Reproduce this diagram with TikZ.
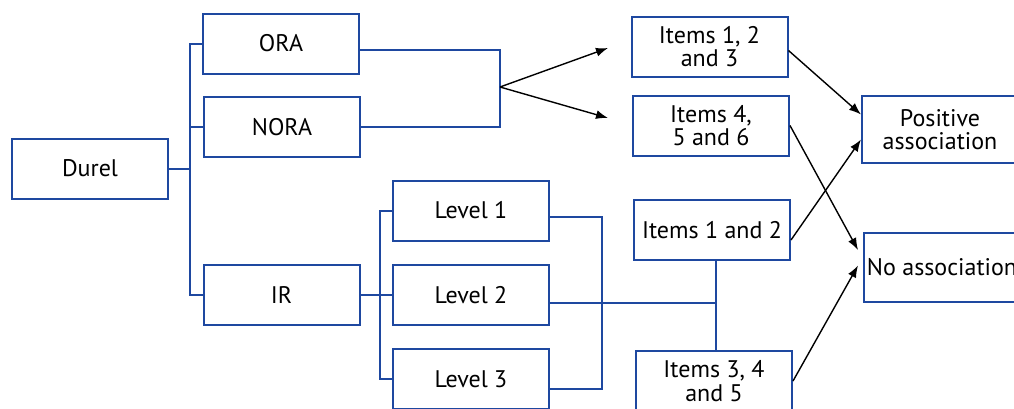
\documentclass[tikz,border=0pt]{standalone}
\usepackage{fontspec}
\setmainfont{PT Sans}
\usetikzlibrary{arrows.meta}
\definecolor{boxblue}{RGB}{30,72,160}

\begin{document}
\begin{tikzpicture}[
            x=0.5pt, y=-0.5pt,
            box/.style={
                draw=boxblue,
                line width=1pt,
                minimum width=78pt,
                minimum height=30pt,
                align=center,
                inner sep=1pt,
                font=\fontsize{12}{11.8}\selectfont
            },
            link/.style={draw=boxblue, line width=1pt},
            pointer/.style={-{Latex[length=6pt,width=4.5pt]}, line width=0.7pt}
        ]
        \useasboundingbox (0,0) rectangle (1014,408);
        \clip (0,0) rectangle (1014,408);
        % first column
        \node[box] (durel) at (90,168.5) {Durel};
        \node[box] (ora) at (281,43.5) {ORA};
        \node[box] (nora) at (282,127) {NORA};
        \node[box] (ir) at (281.5,295) {IR};
        \foreach \n/\y in {1/210.5, 2/295, 3/379} {
            \node[box] (lev\n) at (471,\y) {Level \n};
        }
        % items
        \node[box] (it123) at (709.5,46.5) {Items 1, 2\\and 3};
        \node[box] (it456) at (711,125.5) {Items 4,\\5 and 6};
        \node[box] (it12) at (712,230) {Items 1 and 2};
        \node[box] (it345) at (714,381) {Items 3, 4\\and 5};
        % outcomes
        \node[box, minimum height=33.5pt] (pos) at (940,129.5) {Positive\\association};
        \node[box, minimum height=34.5pt] (noas) at (942,267.5) {No association};
        % brackets
        \coordinate (j1) at (190,168.5);
        \coordinate (j2) at (500,87);
        \coordinate (j3) at (380,295);
        \coordinate (m1) at (602,303);
        \coordinate (m2) at (716,303);
        \draw[link] (durel.east) -- (j1);
        \draw[link] (ora.west) -| (j1) |- (ir.west);
        \draw[link] (nora.west) -- (nora.west -| j1);
        \draw[link] ([yshift=-3.25pt]ora.east) -| (j2) |- (nora.east);
        \draw[link] (ir.east) -- (lev2.west);
        \draw[link] (lev1.west) -| (j3) |- (lev3.west);
        \draw[link] ([yshift=-3pt]lev1.east) -| (m1) |- ([yshift=-5pt]lev3.east);
        \draw[link] ([yshift=-4pt]lev2.east) -- (m2);
        \draw[link] (m2 |- it12.south) -- (m2 |- it345.north);
        % arrows
        \coordinate (a1) at (608,48);
        \coordinate (a2) at (608,118);
        \draw[pointer] (j2) -- (a1);
        \draw[pointer] (j2) -- (a2);
        \draw[pointer] ([yshift=-2pt]it123.east) -- ([yshift=7.5pt]pos.west);
        \draw[pointer] ([yshift=-5pt]it12.east) -- ([yshift=-5pt]pos.west);
        \draw[pointer] (it456.east) -- ([xshift=-2.5pt,yshift=8.75pt]noas.west);
        \draw[pointer] (it345.east) -- ([xshift=-2.5pt,yshift=1pt]noas.west);
\end{tikzpicture}
\end{document}
